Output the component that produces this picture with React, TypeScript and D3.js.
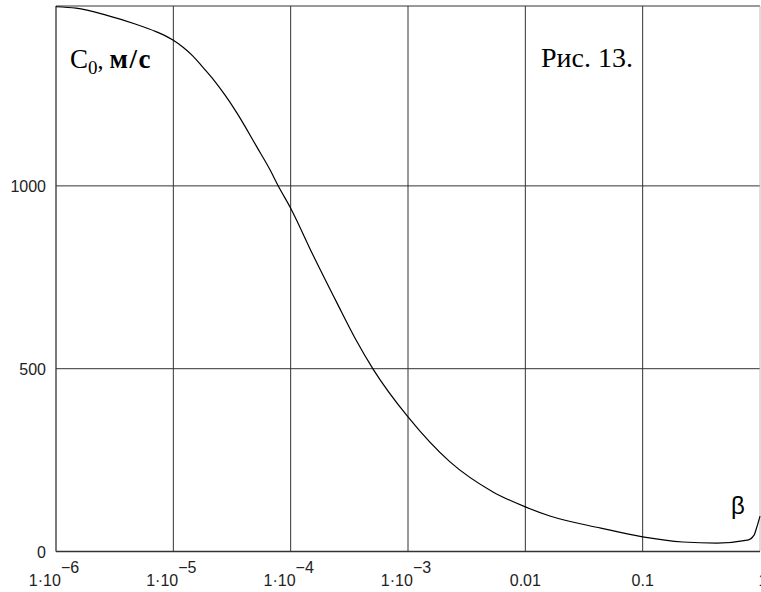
import React from 'react';
import * as d3 from 'd3';

// beta (log scale) vs C0, m/s
const betaValues = [1e-6, 1.48e-6, 2.67e-6, 4.8e-6, 7.1e-6, 8.49e-6, 1e-5, 1.21e-5, 1.47e-5, 1.79e-5, 2.18e-5, 2.76e-5, 3.49e-5, 5.16e-5, 6.67e-5, 7.8e-5, 1e-4, 1.55e-4, 2.48e-4, 3.53e-4, 5.04e-4, 1e-3, 2.28e-3, 5.3e-3, 1e-2, 1.62e-2, 4.4e-2, 0.1, 0.22, 0.43, 0.78, 0.89, 0.94, 1];
const c0Values = [1490, 1486, 1467, 1442, 1422, 1411, 1398, 1379, 1355, 1324, 1292, 1248, 1199, 1106, 1044, 1001, 939, 811, 680, 584, 499, 368, 245, 163, 122, 97, 64, 40, 26, 23, 31, 45, 67, 97];

const xTickValues = [1e-6, 1e-5, 1e-4, 1e-3, 0.01, 0.1, 1];
const xTickBase = ['1·10', '1·10', '1·10', '1·10', '0.01', '0.1', '1'];
const xTickExp = ['−6', '−5', '−4', '−3', '', '', ''];
const yTickValues = [0, 500, 1000];

export default function App() {
  const width = 761;
  const height = 592;
  const margin = { top: 6, right: 1, bottom: 40.5, left: 56 };

  const x = d3.scaleLog()
    .domain([1e-6, 1])
    .range([margin.left, width - margin.right]);

  const y = d3.scaleLinear()
    .domain([0, 1492])
    .range([height - margin.bottom, margin.top]);

  const line = d3.line<number>()
    .x((d, i) => x(betaValues[i]))
    .y(d => y(d))
    .curve(d3.curveMonotoneX);

  const x0 = margin.left;
  const x1 = width - margin.right;
  const y0 = height - margin.bottom;
  const y1 = margin.top;
  const tickFont = '"Liberation Sans", Arial, sans-serif';
  const serif = '"Liberation Serif", "Times New Roman", serif';

  return (
    <svg width={width} height={height} style={{ position: 'absolute', left: 0, top: 0, background: '#fff' }}>
      {/* grid */}
      {xTickValues.slice(1, -1).map(v => (
        <line key={'gx' + v} x1={x(v)} x2={x(v)} y1={y1} y2={y0} stroke="#333" strokeWidth={1} />
      ))}
      {yTickValues.slice(1).map(v => (
        <line key={'gy' + v} x1={x0} x2={x1} y1={y(v)} y2={y(v)} stroke="#333" strokeWidth={1} />
      ))}
      {/* frame */}
      <line x1={x0} x2={x1} y1={y1} y2={y1} stroke="#333" strokeWidth={1} />
      <line x1={x1} x2={x1} y1={y1} y2={y0} stroke="#bbb" strokeWidth={1} />
      <line x1={x0} x2={x0} y1={y1} y2={y0} stroke="#333" strokeWidth={1.3} />
      <line x1={x0} x2={x1} y1={y0} y2={y0} stroke="#333" strokeWidth={1.3} />

      {/* curve */}
      <path d={line(c0Values) || ''} fill="none" stroke="#000" strokeWidth={1.2} />

      {/* y tick labels */}
      {yTickValues.map(v => (
        <text key={'ty' + v} x={46} y={y(v) + 6} textAnchor="end" fontFamily={tickFont} fontSize={16} fill="#222">
          {v}
        </text>
      ))}

      {/* x tick labels */}
      {xTickValues.map((v, i) => (
        <text key={'tx' + v} x={x(v) - (xTickExp[i] ? 2 : 0) + (i === xTickValues.length - 1 ? 3 : 0)} y={586} textAnchor="middle" fontFamily={tickFont} fontSize={16} fill="#222">
          {xTickBase[i]}
          {xTickExp[i] && <tspan dy={-13}>{xTickExp[i]}</tspan>}
        </text>
      ))}

      {/* annotations */}
      <text x={70} y={68} fontFamily={serif} fontSize={27} fill="#000">
        C<tspan fontSize={19} dy={6}>0</tspan>
        <tspan dy={-6} fontSize={24}>, </tspan>
        <tspan fontWeight="bold" fontSize={27} letterSpacing={1.5}>м/с</tspan>
      </text>
      <text x={541} y={67} fontFamily={serif} fontSize={28} fill="#000">Рис. 13.</text>
      <text x={731} y={514} fontFamily={tickFont} fontSize={24} fill="#000">β</text>
    </svg>
  );
}
